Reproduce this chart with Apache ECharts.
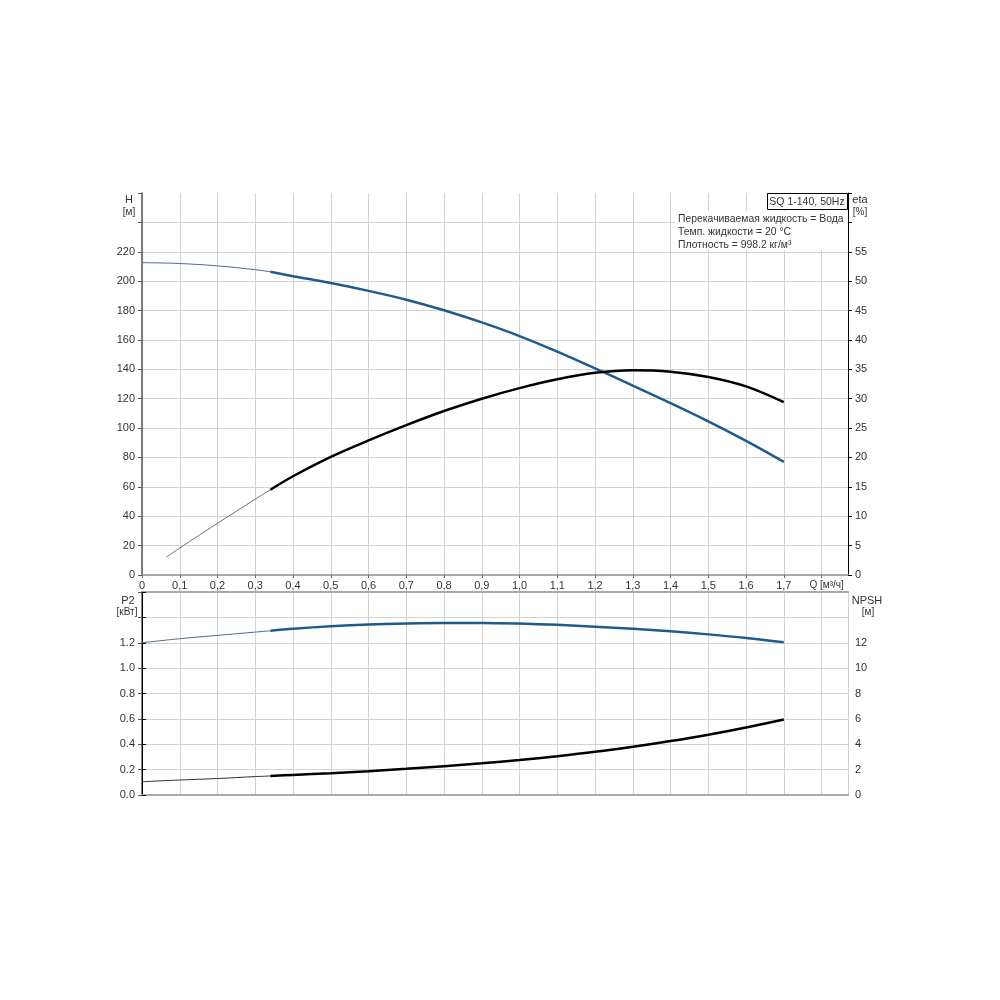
<!DOCTYPE html>
<html>
<head>
<meta charset="utf-8">
<script src="https://cdn.jsdelivr.net/npm/echarts@6/dist/echarts.min.js"></script>
<style>html,body{margin:0;padding:0;background:#fff}#c{width:1000px;height:1000px}</style>
</head>
<body>
<div id="c"></div>
<script>
// ---- data ----
var qThin = [0, 0.1, 0.2, 0.3, 0.34];
var qEtaThin = [0.065, 0.1, 0.2, 0.3, 0.34];
var qMain = [0.34, 0.4, 0.5, 0.6, 0.7, 0.8, 0.9, 1.0, 1.1, 1.2, 1.3, 1.4, 1.5, 1.6, 1.7];

var hThin = [212.6, 212.0, 210.4, 207.8, 206.4];
var hMain = [206.4, 203.4, 198.7, 193.4, 187.4, 180.2, 171.9, 162.6, 152.0, 140.6, 128.9, 117.0, 104.6, 91.3, 77.0];

var etaThin = [3.05, 4.6, 8.8, 12.9, 14.5];
var etaMain = [14.5, 16.8, 20.1, 22.9, 25.5, 27.9, 30.0, 31.8, 33.3, 34.4, 34.85, 34.6, 33.7, 32.1, 29.4];

var p2Thin = [1.200, 1.232, 1.258, 1.284, 1.294];
var p2Main = [1.294, 1.310, 1.330, 1.344, 1.352, 1.356, 1.356, 1.351, 1.341, 1.327, 1.310, 1.290, 1.266, 1.238, 1.204];

var npshThin = [1.05, 1.18, 1.30, 1.45, 1.50];
var npshMain = [1.50, 1.58, 1.72, 1.88, 2.06, 2.27, 2.50, 2.76, 3.06, 3.40, 3.80, 4.25, 4.75, 5.32, 5.95];

var hHiddenLabels = [240, 260];
var etaHiddenLabels = [60, 65];
var p2HiddenLabels = [1.4, 1.6];
var npshHiddenLabels = [14, 16];

var infoLines = ['Перекачиваемая жидкость = Вода', 'Темп. жидкости = 20 °C', 'Плотность = 998.2 кг/м³'];
var titleText = 'SQ 1-140, 50Hz';

// ---- helpers ----
function pairs(xs, ys) { return xs.map(function (x, i) { return [x, ys[i]]; }); }
function hidden(list, v) { return list.some(function (h) { return Math.abs(h - v) < 1e-6; }); }

var FONT = 'Liberation Sans, Arial, sans-serif';
var BLUE = '#1f5a8c';
var GRIDC = '#d2d2d2';

function xAxisBase(gridIndex, showLabels) {
  return {
    type: 'value', gridIndex: gridIndex, min: 0, max: 1.87, interval: 0.1,
    axisLine: { show: true, onZero: false, lineStyle: { color: '#a9a9a9', width: 2 } },
    axisTick: { show: showLabels, length: 3, lineStyle: { color: '#666' } },
    splitLine: { show: true, lineStyle: { color: GRIDC, width: 1 } },
    axisLabel: showLabels ? {
      show: true, margin: 5, showMaxLabel: false, fontSize: 11, color: '#333', fontFamily: FONT,
      formatter: function (v) {
        if (Math.abs(v) < 1e-9) return '0';
        if (Math.abs(v - 1.8) < 1e-6) return '{q|Q [м³/ч]}';
        return v.toFixed(1).replace('.', ',');
      },
      rich: { q: { fontSize: 10, color: '#333', fontFamily: FONT, padding: [0, 0, 0, 10] } }
    } : { show: false }
  };
}

function yAxisBase(gridIndex, pos, min, max, interval, hid, decimals, split) {
  return {
    type: 'value', gridIndex: gridIndex, position: pos, min: min, max: max, interval: interval,
    axisLine: { show: true, lineStyle: { color: pos === 'left' ? '#555' : '#000', width: pos === 'left' ? 1.5 : 1 } },
    axisTick: { show: true, inside: false, length: 4, lineStyle: { color: pos === 'left' ? '#555' : '#000' } },
    splitLine: { show: split, showMaxLine: false, showMinLine: false, lineStyle: { color: GRIDC, width: 1 } },
    axisLabel: {
      show: true, margin: 7, fontSize: 11, color: '#333', fontFamily: FONT,
      formatter: function (v) { return hidden(hid, v) ? '' : v.toFixed(decimals); }
    }
  };
}

function line(xi, yi, xs, ys, color, width, z) {
  return { type: 'line', xAxisIndex: xi, yAxisIndex: yi, data: pairs(xs, ys), smooth: 0.35, symbol: 'none',
    lineStyle: { color: color, width: width }, z: z };
}

var option = {
  animation: false,
  backgroundColor: '#fff',
  grid: [
    { left: 142, right: 152, top: 193, bottom: 425 },
    { left: 142, right: 152, top: 592, bottom: 205 }
  ],
  xAxis: [
    xAxisBase(0, true),
    xAxisBase(1, false),
    Object.assign(xAxisBase(1, false), { position: 'top', splitLine: { show: false } })
  ],
  yAxis: [
    yAxisBase(0, 'left', 0, 260, 20, hHiddenLabels, 0, true),
    yAxisBase(0, 'right', 0, 65, 5, etaHiddenLabels, 0, false),
    yAxisBase(1, 'left', 0, 1.6, 0.2, p2HiddenLabels, 1, true),
    yAxisBase(1, 'right', 0, 16, 2, npshHiddenLabels, 0, false)
  ],
  series: [
    line(0, 0, qThin, hThin, '#4f6a86', 1, 3),
    line(0, 0, qMain, hMain, BLUE, 2.5, 4),
    line(0, 1, qEtaThin, etaThin, '#707070', 1, 3),
    line(0, 1, qMain, etaMain, '#000', 2.5, 4),
    line(1, 2, qThin, p2Thin, '#4f6a86', 1, 3),
    line(1, 2, qMain, p2Main, BLUE, 2.5, 4),
    line(1, 3, qThin, npshThin, '#303030', 1, 3),
    line(1, 3, qMain, npshMain, '#000', 2.5, 4)
  ],
  graphic: [
    { type: 'text', x: 129, y: 200, style: { text: 'H', font: '11px ' + FONT, fill: '#333', align: 'center', verticalAlign: 'middle' } },
    { type: 'text', x: 129, y: 212, style: { text: '[м]', font: '10px ' + FONT, fill: '#333', align: 'center', verticalAlign: 'middle' } },
    { type: 'text', x: 860, y: 200, style: { text: 'eta', font: '11px ' + FONT, fill: '#333', align: 'center', verticalAlign: 'middle' } },
    { type: 'text', x: 860, y: 212, style: { text: '[%]', font: '10px ' + FONT, fill: '#333', align: 'center', verticalAlign: 'middle' } },
    { type: 'text', x: 128, y: 601, style: { text: 'P2', font: '11px ' + FONT, fill: '#333', align: 'center', verticalAlign: 'middle' } },
    { type: 'text', x: 127, y: 612, style: { text: '[кВт]', font: '10px ' + FONT, fill: '#333', align: 'center', verticalAlign: 'middle' } },
    { type: 'text', x: 867, y: 601, style: { text: 'NPSH', font: '11px ' + FONT, fill: '#333', align: 'center', verticalAlign: 'middle' } },
    { type: 'text', x: 868, y: 612, style: { text: '[м]', font: '10px ' + FONT, fill: '#333', align: 'center', verticalAlign: 'middle' } },
    { type: 'rect', shape: { x: 675, y: 211, width: 172, height: 39 }, style: { fill: '#fff' }, z: 100 },
    { type: 'text', x: 678, y: 219, z: 101, style: { text: infoLines[0], font: '10.4px ' + FONT, fill: '#333', verticalAlign: 'middle' } },
    { type: 'text', x: 678, y: 232, z: 101, style: { text: infoLines[1], font: '10.4px ' + FONT, fill: '#333', verticalAlign: 'middle' } },
    { type: 'text', x: 678, y: 245, z: 101, style: { text: infoLines[2], font: '10.4px ' + FONT, fill: '#333', verticalAlign: 'middle' } },
    { type: 'rect', shape: { x: 767.5, y: 193.5, width: 80, height: 16 }, style: { fill: '#fff', stroke: '#000', lineWidth: 1 }, z: 100 },
    { type: 'text', x: 807, y: 202, z: 101, style: { text: titleText, font: '10.5px ' + FONT, fill: '#333', align: 'center', verticalAlign: 'middle' } }
  ]
};

var chart = echarts.init(document.getElementById('c'), null, { renderer: 'canvas' });
chart.setOption(option);
</script>
</body>
</html>
